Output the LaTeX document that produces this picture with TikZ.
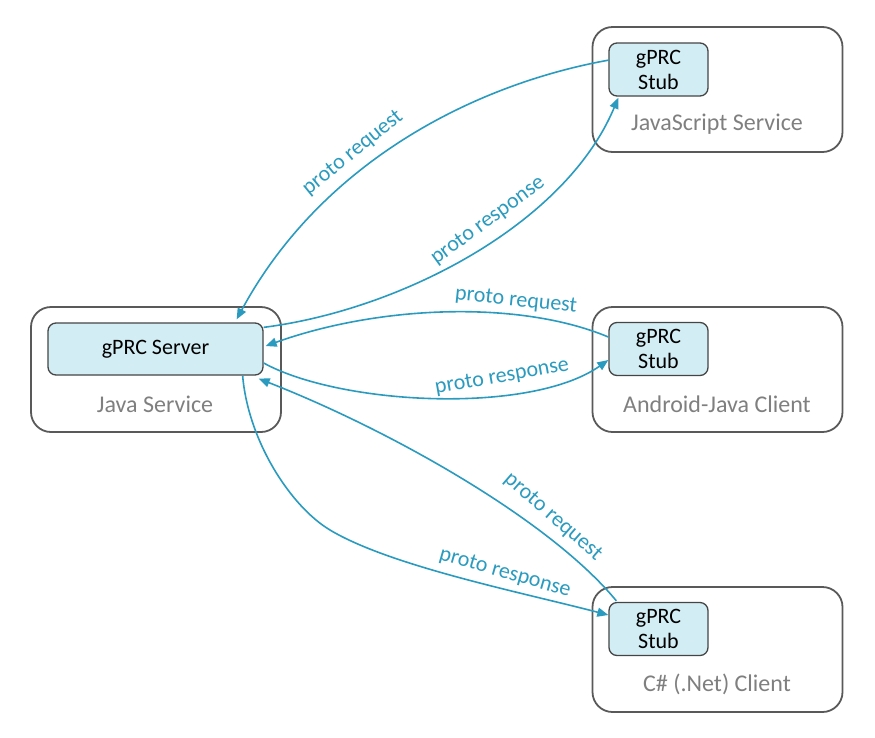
\documentclass[tikz,border=0pt]{standalone}
\usepackage{fontspec}
\setmainfont{Carlito}
\usetikzlibrary{arrows.meta,calc}
\definecolor{arrowc}{HTML}{2A9BBF}
\definecolor{innerfill}{HTML}{D2EDF4}
\definecolor{outerline}{HTML}{595959}
\definecolor{innerline}{HTML}{454545}
\definecolor{graytext}{HTML}{7F7F7F}
\tikzset{
  outerbox/.style={draw=outerline, line width=1.8pt, rounded corners=20pt, minimum width=250pt, minimum height=125pt, inner sep=0pt},
  innerbox/.style={draw=innerline, fill=innerfill, line width=1.3pt, rounded corners=8pt, inner sep=0pt, font=\fontsize{22}{25}\selectfont, align=center},
  svclabel/.style={text=graytext, font=\fontsize{24}{28}\selectfont, inner sep=0pt},
  flow/.style={draw=arrowc, line width=1.6pt, -{Triangle[length=11pt,width=9pt]}},
  flowlabel/.style={text=arrowc, font=\fontsize{22}{26}\selectfont, inner sep=0pt}
}
\begin{document}
\begin{tikzpicture}[x=1pt,y=-1pt]
\useasboundingbox (0,0) rectangle (875,737);
% outer boxes
\node[outerbox] (java) at (156,369.5) {};
\node[outerbox] (js) at (717.5,89.5) {};
\node[outerbox] (android) at (717.5,369.5) {};
\node[outerbox] (csharp) at (717.5,649.5) {};
% inner boxes
\node[innerbox, minimum width=215pt, minimum height=52pt] (server) at (155.5,349) {gPRC Server};
\node[innerbox, minimum width=99pt, minimum height=53pt] (jsstub) at (658.5,69.5) {gPRC\\Stub};
\node[innerbox, minimum width=99pt, minimum height=53pt] (astub) at (658.5,349) {gPRC\\Stub};
\node[innerbox, minimum width=99pt, minimum height=53pt] (cstub) at (658.5,629) {gPRC\\Stub};
% service labels
\node[svclabel] (javalbl) at (155,404) {Java Service};
\node[svclabel] (jslbl) at (717,124) {JavaScript Service};
\node[svclabel] (alabl) at (717,404) {Android-Java Client};
\node[svclabel] (clbl) at (717,684) {C\# (.Net) Client};
% connectors
\draw[flow] ($(jsstub.west)+(1,-9.5)$) .. controls (470,85) and (320,165) .. ($(server.north east)+(-27,-3)$);
\draw[flow] ($(server.north east)+(0,5)$) .. controls (400,310) and (565,225) .. ($(jsstub.south west)+(10,1)$);
\draw[flow] ($(astub.west)+(0,-12)$) .. controls (520,300) and (380,305) .. ($(server.east)+(2,-3)$);
\draw[flow] ($(server.east)+(0,14)$) .. controls (340,405) and (530,415) .. ($(astub.west)+(0,11)$);
\draw[flow] ($(cstub.north west)+(8,-1)$) .. controls (550,520) and (390,430) .. ($(server.south east)+(-5,3)$);
\draw[flow] ($(server.south east)+(-21,0)$) .. controls (248,440) and (290,506) .. (330,530)
            .. controls (390,566) and (520,592) .. ($(cstub.west)+(0,-14)$);
% connector labels
\node[flowlabel, rotate=39] (l1) at (353,153) {proto request};
\node[flowlabel, rotate=36] (l2) at (488,221) {proto response};
\node[flowlabel, rotate=-6] (l3) at (516,301) {proto request};
\node[flowlabel, rotate=10] (l4) at (502,377) {proto response};
\node[flowlabel, rotate=-41] (l5) at (553,517) {proto request};
\node[flowlabel, rotate=-16] (l6) at (505,573) {proto response};
\end{tikzpicture}
\end{document}
